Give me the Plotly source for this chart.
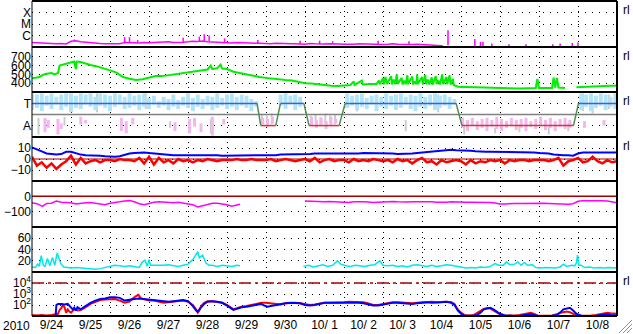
import pandas as pd
import plotly.graph_objects as go
from plotly.subplots import make_subplots

T0 = pd.Timestamp("2010-09-24")
def tt(h):
    return None if h is None else T0 + pd.Timedelta(hours=h)

# ---------------- data ----------------
day_labels = ["9/24", "9/25", "9/26", "9/27", "9/28", "9/29", "9/30", "10/ 1", "10/ 2",
              "10/ 3", "10/4", "10/5", "10/6", "10/7", "10/8"]

# X-ray flux baseline (log10 W/m2), every 3 h from 9/24 00:00
xr_base = [-6.6, -6.62, -6.7, -6.72, -6.74, -6.72, -6.7, -6.73,
           -6.5, -6.45, -6.55, -6.6, -6.62, -6.66, -6.7, -6.72,
           -6.74, -6.75, -6.72, -6.6, -6.58, -6.62, -6.65, -6.6,
           -6.62, -6.6, -6.64, -6.58, -6.55, -6.6, -6.62, -6.58,
           -6.55, -6.5, -6.52, -6.48, -6.55, -6.58, -6.6, -6.62,
           -6.62, -6.65, -6.6, -6.62, -6.66, -6.68, -6.66, -6.7,
           -6.7, -6.72, -6.68, -6.7, -6.74, -6.72, -6.75, -6.74,
           -6.75, -6.7, -6.72, -6.76, -6.74, -6.72, -6.7, -6.74,
           -6.76, -6.78, -6.75, -6.72, -6.74, -6.78, -6.8, -6.78,
           -6.78, -6.76, -6.72, -6.75, -6.78, -6.8, -6.78, -6.76,
           -6.78, -6.8, -6.82, -6.85, -6.9, -7.1, -7.2, -7.2] + [-7.2] * 33
# X-ray flares: hour, base, peak (log10)
xr_sp_h = [26, 57, 60, 65, 93, 103, 106, 109, 118.5, 139, 165, 177, 185, 213, 232, 256,
           272.5, 276, 277.5, 283, 293.5, 304, 320.5, 325, 332.5, 336]
xr_sp_lo = [-6.5, -6.7, -6.65, -6.62, -6.6, -6.5, -6.5, -6.5, -6.6, -6.65, -6.72, -6.75, -6.72,
            -6.78, -6.78, -6.85, -7.2, -7.2, -7.2, -7.2, -7.2, -7.2, -7.2, -7.2, -7.2, -7.2]
xr_sp_hi = [-6.35, -6.15, -6.15, -6.4, -6.2, -6.1, -5.9, -6.0, -6.25, -6.4, -6.45, -6.45, -6.5,
            -6.45, -6.5, -5.55, -6.3, -6.55, -6.55, -6.7, -6.75, -6.75, -6.75, -6.7, -6.65, -6.6]

# Solar wind speed (km/s)
sw_h = [0, 4, 8, 12, 14, 16, 17, 19, 22, 24, 26, 27, 27.5, 30, 33, 36, 40, 44, 48, 52, 56, 60,
        64, 68, 72, 76, 80, 84, 88, 92, 96, 100, 104, 108, 110, 111, 114, 116, 117, 120, 124,
        128, 132, 136, 140, 144, 148, 152, 156, 160, 164, 168, 172, 176, 180, 184, 188, 192,
        196, 198, 198.5, 203, 203.5, 208, 212, 213.5, 214, 216, 216.5, 217.5, 218.5, 221, 221.5,
        222.5, 223.5, 224.5, 225, 227.5, 228, 229, 230, 231, 231.5, 234, 234.5, 235.5, 236.5,
        237, 237.5, 240, 240.5, 242, 242.5, 243.5, 244.5, 246, 246.5, 248.5, 249, 250, 251,
        252.5, 253, 255, 255.5, 257, 257.5, 259, 259.5, 262, 266, 270, 280, 290, 300, 310, 311,
        312, 320, 321, 322, 323, 324, 328, 331, 335, 340, 348, 356, 360]
sw_v = [455, 468, 505, 515, 500, 515, 600, 610, 632, 640, 645, 560, 645, 640, 620, 606, 590,
        570, 545, 520, 470, 450, 436, 445, 465, 480, 480, 490, 505, 515, 520, 535, 545, 555,
        600, 560, 570, 610, 565, 560, 530, 515, 495, 480, 470, 460, 450, 442, 436, 430, 415,
        400, 395, 385, 378, 372, 368, 375, 380, 420, 380, 430, 385, 390, 390, 430, 388, 455,
        386, 470, 390, 480, 385, 440, 388, 500, 392, 460, 385, 430, 388, 490, 390, 475, 386,
        420, 388, 500, 390, 470, 385, 495, 388, 440, 386, 465, 384, 480, 390, 430, 386, 500,
        388, 470, 388, 490, 385, 450, 380, 360, 358, 355, 345, 340, 340, 345, 447, 345, 345,
        462, 350, 460, 350, 345, None, 355, 360, 365, 370, 370]

# IMF sector (T = +1, A = -1)
sector_h = [0, 138.5, 140.8, 150, 152.9, 167.3, 170.5, 189, 192.7, 261, 264.6, 333.2, 336.3, 360]
sector_v = [1, 1, -1, -1, 1, 1, -1, -1, 1, 1, -1, -1, 1, 1]

# IMF direction scatter (hour, low, high)
lb_h = [0, 3, 6, 9, 12, 15, 18, 21, 24, 27, 30, 33, 36, 39, 42, 45, 48, 51, 54, 57, 60, 63, 66,
        69, 72, 75, 78, 81, 84, 87, 90, 93, 96, 99, 102, 105, 108, 111, 114, 117, 120, 123, 126,
        129, 132, 135, 138, 153, 156, 159, 162, 165, 194, 197, 200, 203, 206, 209, 212, 215,
        218, 221, 224, 227, 230, 233, 236, 239, 242, 245, 248, 251, 254, 257, 260, 338, 341,
        344, 347, 350, 353, 356, 359]
lb_lo = [0.4, 0.6, 0.3, 0.8, 0.5, 0.9, 0.4, 0.7, 0.2, 0.6, 0.5, 0.9, 0.7, 0.4, 0.8, 0.6, 0.3,
         0.7, 0.9, 0.5, 0.6, 0.8, 0.4, 0.7, 0.5, 0.9, 0.6, 0.8, 0.4, 0.7, 0.5, 0.8, 0.6, 0.3,
         0.7, 0.5, 0.8, 0.4, 0.6, 0.8, 0.5, 0.7, 0.4, 0.8, 0.6, 0.3, 0.7, 0.8, 0.5, 0.9, 0.4,
         0.7, 0.6, 0.8, 0.4, 0.7, 0.5, 0.9, 0.3, 0.7, 0.5, 0.8, 0.4, 0.6, 0.9, 0.5, 0.3, 0.7,
         0.5, 0.8, 0.4, 0.6, 0.8, 0.5, 0.9, 0.4, 0.7, 0.3, 0.6, 0.8, 0.4, 0.7, 0.5]
lb_hi = [1.9, 1.8, 1.9, 1.7, 1.9, 1.6, 1.8, 1.9, 1.9, 1.7, 1.9, 1.8, 1.9, 1.6, 1.9, 1.8, 1.7,
         1.9, 1.8, 1.6, 1.9, 1.7, 1.8, 1.9, 1.5, 1.7, 1.2, 1.6, 1.4, 1.8, 1.3, 1.6, 1.9, 1.5,
         1.8, 1.4, 1.7, 1.6, 1.9, 1.5, 1.8, 1.9, 1.6, 1.8, 1.7, 1.4, 1.2, 1.8, 1.9, 1.7, 1.8,
         1.6, 1.9, 1.7, 1.8, 1.9, 1.5, 1.7, 1.8, 1.6, 1.9, 1.7, 1.8, 1.9, 1.6, 1.8, 1.7, 1.9,
         1.6, 1.8, 1.9, 1.7, 1.8, 1.6, 1.4, 1.9, 1.8, 1.9, 1.7, 1.9, 1.8, 1.6, 1.9]
pk_h = [8, 10, 16, 18, 30, 33, 55, 58, 62, 88, 97, 100, 104, 111, 118, 142, 145, 148, 172, 175,
        178, 181, 184, 187, 265, 268, 271, 274, 277, 280, 283, 286, 289, 292, 295, 298, 301,
        304, 307, 310, 313, 316, 319, 322, 325, 328, 331, 340, 352]
pk_lo = [-0.3, -0.5, -0.4, -0.8, -0.2, -0.5, -0.3, -0.6, -0.3, -0.7, -0.4, -0.3, -0.8, -0.2,
         -0.4, -0.3, -0.4, -0.2, -0.2, -0.5, -0.3, -0.6, -0.2, -0.4, -0.3, -0.5, -0.3, -0.6,
         -0.4, -0.3, -0.5, -0.2, -0.4, -0.6, -0.3, -0.5, -0.4, -0.3, -0.6, -0.4, -0.2, -0.5,
         -0.3, -0.6, -0.4, -0.3, -0.5, -0.6, -0.5]
pk_hi = [-1.6, -1.2, -1.8, -1.3, -0.9, -0.8, -1.5, -1.7, -0.9, -1.5, -1.7, -1.1, -1.6, -1.9,
         -0.9, -0.9, -1.1, -0.8, -1.0, -1.2, -0.9, -1.3, -1.0, -0.8, -1.2, -1.5, -1.0, -1.4,
         -1.2, -1.5, -1.1, -1.3, -1.5, -1.2, -1.0, -1.4, -1.2, -1.5, -1.1, -1.3, -1.0, -1.4,
         -1.2, -1.5, -1.1, -1.3, -1.2, -1.2, -1.0]
gy_h = [4, 20, 40, 70, 85, 110, 141.5, 144.5, 147.5, 171.5, 174.5, 177.5, 180.5, 183.5, 186.5,
        200, 230, 250, 266, 285, 300, 318, 330, 339, 345, 355]
gy_lo = [-0.3, -0.2, 0.2, 0.5, -0.6, -0.4, 0.0, -0.1, 0.1, -0.1, 0.0, -0.2, 0.1, -0.1, 0.0,
         0.3, -0.5, 0.2, -1.0, -1.2, -0.9, -1.1, -0.8, 0.3, 0.1, 0.5]
gy_hi = [-1.8, -1.0, 1.9, 1.9, -1.2, -1.7, -0.9, -0.7, -0.9, -0.9, -0.6, -1.0, -0.8, -0.7,
         -0.9, 0.8, -1.5, 1.8, -1.8, -1.7, -1.6, -1.8, -1.5, 1.9, 0.9, 1.8]

# IMF Bt and Bz (nT), every 3 h
bt_v = [10.5, 9, 7, 5, 4.5, 4, 4.5, 6.5, 6.5, 5, 4, 3.5, 3.5, 3.5, 3, 2.5,
        2, 2, 2.5, 4, 5, 5.5, 6, 6, 5.5, 5, 4.5, 4, 4, 3.5, 3.5, 3.5,
        3.5, 3.5, 4, 4, 3.5, 3.5, 3.5, 3, 3, 3, 3.5, 3.5, 3.5, 3, 3, 3,
        3, 3.5, 3.5, 4, 4, 4, 4.5, 4.5, 4.5, 4.5, 5, 5, 5, 4.5, 4.5, 4.5,
        4.5, 4.5, 5, 5, 5.5, 5.5, 5, 5, 5, 5, 5, 4.5, 4.5, 5, 5, 5.5,
        6, 6.5, 7, 7.5, 8, 8.5, 8.5, 8, 8, 7.5, 7.5, 7, 6.5, 6.5, 6.5, 6.5,
        6.5, 6.5, 6, 6, 6.5, 6, 6, 6, 5.5, 5.5, 5, 4, 3.5, 3.5, 3.5, 3,
        5, 6, 6, 6, 6.5, 6, 6, 6, 6]
bz_v = [2, -6, -3, -8, -4, -9, -5, -2, 3, -5, 1, -4, -2, -1, -3, -1,
        -1, -2, 0, -1, -1, -2, 1, -4, 2, -5, 1, -3, -1, -4, 0, -2,
        -1, -3, -1, -2, 0, -1, -2, -1, -1, -1, 0, -1, -1, 0, -1, -1,
        -1, 0, -2, -1, 0, -1, -2, -1, 0, -2, 1, -3, -1, 0, -2, -1,
        -1, -3, 0, -2, -1, -2, 0, -1, -2, -1, -3, 0, -2, -1, -4, -1,
        1, -3, -2, -5, -1, -3, -2, -1, -2, -5, -1, -4, -2, -3, -1, -2,
        -1, -4, -1, -2, -1, -1, -2, -1, -1, -1, -2, -1, 1, -6, -2, -1,
        1, -3, -2, 2, -2, -4, -1, -3, -2]

# Dst (nT)
dst_h = [0, 3, 6.5, 9, 12, 15, 18, 21, 24, 27, 30, 33, 36, 39, 42, 45, 48, 51, 54, 57, 60, 63,
         66, 69, 72, 75, 78, 81, 84, 87, 90, 93, 96, 99, 102, 105, 108, 111, 114, 117, 120, 123,
         126, 128, 147, 168, 171, 174, 177, 180, 183, 186, 189, 192, 195, 198, 201, 204, 207,
         210, 213, 216, 219, 222, 225, 228, 231, 234, 237, 240, 243, 246, 249, 252, 255, 258,
         261, 264, 267, 270, 273, 276, 279, 282, 285, 288, 291, 294, 297, 300, 303, 306, 309,
         312, 315, 318, 321, 324, 327, 330, 333, 336, 339, 342, 345, 348, 351, 354, 357, 360]
dst_v = [-42, -48, -66, -46, -45, -30, -38, -40, -42, -50, -45, -42, -40, -44, -52, -55, -45,
         -38, -36, -30, -28, -35, -48, -55, -45, -38, -35, -38, -40, -42, -38, -45, -50, -55,
         -70, -60, -50, -45, -45, -48, -55, -65, -55, -52, None, -30, -32, -35, -38, -36, -34,
         -35, -36, -38, -40, -36, -34, -35, -37, -40, -38, -36, -35, -34, -36, -38, -37, -36,
         -35, -34, -33, -35, -38, -40, -38, -36, -38, -38, -39, -39, -39, -40, -38, -40, -44,
         -50, -50, -46, -46, -47, -46, -45, -46, -46, -45, -46, -47, -48, -50, -52, -48, -32,
         -29, -28, -29, -28, -29, -30, -36, -42]

# AE-like index (cyan)
ae_h = [0, 2, 3.5, 4.5, 5.7, 7, 8, 9.5, 11, 12.6, 14, 15.5, 17, 18, 19.5, 21, 24, 27, 30, 33,
        36, 39, 42, 45, 48, 51, 54, 57, 60, 63, 66, 68, 69.5, 71, 72, 73, 75, 78, 81, 84, 87, 90,
        93, 96, 99, 101, 102, 103, 105, 107, 109, 111, 114, 117, 120, 123, 126, 128, 147, 167,
        170, 173, 176, 179, 182, 185, 188, 190, 193, 196, 199, 202, 205, 208, 211, 214, 216, 219,
        222, 225, 228, 231, 234, 237, 240, 243, 246, 249, 252, 255, 258, 261, 264, 267, 270, 273,
        276, 279, 282, 285, 287, 290, 292, 294, 297, 299, 301, 303, 305, 308, 310, 313, 316, 319,
        322, 325, 327, 329, 332, 334, 335, 335.7, 336.5, 338, 340, 343, 346, 349, 352, 355, 358,
        360]
ae_v = [9, 8, 14, 10, 29, 12, 10, 24, 11, 26, 12, 34, 20, 14, 9, 8, 7, 8, 7, 6, 5, 5, 6, 8, 10,
        12, 11, 10, 11, 9, 8, 18, 21, 10, 22, 12, 12, 11, 12, 13, 12, 10, 12, 14, 22, 30, 36, 25,
        30, 16, 12, 12, 10, 12, 11, 10, 12, 11, None, 10, 12, 9, 11, 13, 10, 12, 20, 14, 11, 10,
        12, 11, 10, 12, 13, 20, 12, 11, 12, 10, 11, 9, 12, 13, 11, 10, 12, 10, 11, 13, 12, 10, 8,
        7, 8, 7, 9, 8, 10, 15, 12, 12, 18, 13, 14, 18, 12, 17, 12, 13, 8, 7, 8, 7, 7, 9, 14, 10,
        12, 11, 16, 30, 12, 12, 8, 9, 7, 8, 7, 8, 7, 8]

# energetic particle flux (log10), red and blue
pr_h = [0, 3, 6, 9, 12, 15, 16, 17, 18, 19, 20, 21, 22, 23, 24, 26, 28, 30, 32, 34, 36, 39, 42,
        45, 48, 51, 54, 57, 60, 62, 64, 65.5, 67, 69, 72, 75, 78, 81, 84, 87, 90, 93, 96, 99, 101,
        102, 103, 104, 106, 108, 111, 114, 117, 120, 122, 124, 126, 129, 132, 135, 138, 141, 144,
        147, 150, 153, 156, 159, 162, 165, 168, 171, 174, 177, 180, 183, 186, 189, 192, 195, 198,
        201, 204, 207, 210, 213, 216, 219, 222, 225, 228, 231, 234, 237, 240, 243, 246, 249, 252,
        255, 258, 260, 262, 264, 266, 268, 270, 272, 274, 276, 278, 280, 282, 284, 286, 288, 291,
        294, 297, 300, 303, 305, 307, 309, 311, 314, 317, 320, 323, 325, 327, 329, 331, 333, 335,
        338, 341, 344, 347, 350, 352, 354, 356, 358, 360]
pr_v = [1.1, 1.05, 1.1, 1.05, 1.1, 1.15, 1.2, 1.57, 1.7, 2.0, 1.8, 1.3, 1.6, 1.4, 1.3, 1.6, 1.5,
        1.55, 1.7, 1.9, 2.1, 2.3, 2.45, 2.5, 2.55, 2.55, 2.4, 2.2, 2.3, 2.6, 2.8, 2.92, 2.6, 2.5,
        2.4, 2.4, 2.3, 2.2, 2.25, 2.3, 2.35, 2.4, 2.3, 2.0, 1.6, 1.3, 1.5, 1.9, 2.2, 2.35, 2.35,
        2.3, 2.2, 2.0, 1.8, 1.6, 1.7, 1.85, 1.9, 2.0, 2.1, 2.2, 2.2, 2.15, 2.05, 2.05, 2.15, 2.2,
        2.2, 2.15, 2.05, 2.0, 2.05, 2.15, 2.2, 2.2, 2.2, 2.25, 2.25, 2.3, 2.3, 2.3, 2.25, 2.15,
        2.0, 2.0, 2.1, 2.2, 2.25, 2.25, 2.2, 2.2, 2.15, 2.2, 2.25, 2.3, 2.3, 2.25, 2.3, 2.3, 2.25,
        2.1, 1.6, 1.3, 1.1, 1.05, 1.05, 1.1, 1.3, 1.5, 1.65, 1.72, 1.7, 1.5, 1.3, 1.15, 1.05,
        1.03, 1.05, 1.1, 1.2, 1.3, 1.3, 1.2, 1.05, 1.03, 1.03, 1.05, 1.15, 1.3, 1.35, 1.4, 1.35,
        1.2, 1.05, 1.03, 1.03, 1.05, 1.1, 1.2, 1.3, 1.3, 1.25, 1.2, 1.2]
pb_h = [0, 14.5, 15, 16, 18, 20, 22, 24, 25, 26, 27, 28, 30, 32, 34, 36, 39, 42, 45, 48, 51, 54,
        57, 60, 63, 66, 69, 72, 75, 78, 81, 84, 87, 90, 93, 96, 99, 101, 102, 103, 104, 106, 108,
        111, 114, 117, 120, 122, 124, 126, 129, 132, 135, 138, 141, 143, 145, 147, 150, 153, 156,
        159, 162, 165, 168, 171, 174, 177, 180, 183, 186, 189, 192, 195, 198, 201, 204, 207, 210,
        213, 216, 219, 222, 225, 228, 231, 234, 237, 240, 243, 246, 249, 252, 255, 258, 260, 262,
        264, 266, 268, 270, 272, 274, 276, 278, 280, 282, 284, 286, 288, 291, 294, 297, 300, 303,
        305, 307, 309, 311, 314, 317, 320, 323, 325, 327, 329, 331, 333, 335, 338, 341, 344, 347,
        350, 352, 354, 356, 358, 360]
pb_v = [0.9, 0.9, 2.0, 2.1, 2.1, 2.05, 2.1, 1.8, 1.6, 1.75, 1.5, 1.8, 1.6, 1.8, 2.0, 2.2, 2.4,
        2.55, 2.6, 2.7, 2.7, 2.65, 2.4, 2.5, 2.55, 2.6, 2.55, 2.5, 2.45, 2.35, 2.3, 2.3, 2.35,
        2.4, 2.45, 2.35, 1.9, 1.5, 1.4, 1.6, 1.8, 2.1, 2.3, 2.35, 2.3, 2.2, 1.95, 1.75, 1.55,
        1.65, 1.8, 1.85, 1.95, 2.05, 2.1, 1.95, 1.85, 1.9, 2.0, 2.1, 2.15, 2.2, 2.2, 2.15, 2.0,
        1.95, 2.0, 2.1, 2.2, 2.2, 2.2, 2.2, 2.2, 2.25, 2.2, 2.2, 2.15, 2.05, 1.95, 1.95, 2.05,
        2.15, 2.2, 2.2, 2.15, 2.1, 2.1, 2.15, 2.2, 2.25, 2.2, 2.2, 2.25, 2.3, 2.2, 2.0, 1.5, 1.2,
        1.05, 1.0, 1.0, 1.05, 1.1, 1.3, 1.6, 1.7, 1.75, 1.6, 1.4, 1.2, 1.05, 1.0, 1.0, 1.02,
        1.05, 1.1, 1.15, 1.1, 1.03, 1.0, 1.0, 1.02, 1.1, 1.3, 1.6, 1.7, 1.75, 1.5, 1.2, 1.03,
        1.0, 1.0, 1.02, 1.05, 1.1, 1.15, 1.1, 1.05, 1.05]

# ---------------- helpers ----------------
def xs(hours):
    return [tt(h) for h in hours]

def segs(hours, lo, hi, f=lambda v: v):
    X, Y = [], []
    for h, a, b in zip(hours, lo, hi):
        X += [tt(h), tt(h), None]
        Y += [f(a), f(b), None]
    return X, Y

p10 = lambda v: None if v is None else 10 ** v
grid3 = [3 * i for i in range(121)]
XSTART, XEND = T0, T0 + pd.Timedelta(days=15)

fig = make_subplots(rows=7, cols=1, shared_xaxes=True, vertical_spacing=0,
                    row_heights=[46, 45, 45, 44, 46, 45, 44])

def line(x, y, color, row, width=1, dash=None, opacity=1):
    fig.add_trace(go.Scatter(x=x, y=y, mode="lines", line=dict(color=color, width=width, dash=dash),
                             opacity=opacity, showlegend=False, hoverinfo="skip",
                             connectgaps=False), row=row, col=1)

# Panel 1: X-ray
X, Y = segs(xr_sp_h, xr_sp_lo, xr_sp_hi, p10)
line(X, Y, "#ff00ff", 1, 1.5)
line(xs(grid3), [p10(v) for v in xr_base], "#ff00ff", 1, 1.5)

# Panel 2: solar wind
line(xs(sw_h), sw_v, "#00ee00", 2, 2)

# Panel 3: IMF sector
X, Y = segs(gy_h, gy_lo, gy_hi); line(X, Y, "#cccccc", 3, 2)
X, Y = segs(lb_h, lb_lo, lb_hi); line(X, Y, "#b2e4f8", 3, 4)
X, Y = segs(pk_h, pk_lo, pk_hi); line(X, Y, "#f4b6ee", 3, 3)
line([XSTART, XEND], [0, 0], "#808080", 3, 1.5)
sx = {"b": [], "r": [], "g": []}
sy = {"b": [], "r": [], "g": []}
for i in range(len(sector_h) - 1):
    a, b = sector_v[i], sector_v[i + 1]
    k = "b" if a == b == 1 else ("r" if a == b == -1 else "g")
    sx[k] += [tt(sector_h[i]), tt(sector_h[i + 1]), None]
    sy[k] += [a, b, None]
line(sx["b"], sy["b"], "#3c5ee0", 3, 1.5)
line(sx["r"], sy["r"], "#e03030", 3, 1.5)
line(sx["g"], sy["g"], "#4a9050", 3, 1.5)

# Panel 4: Bt/Bz
line([XSTART, XEND], [0, 0], "#a00000", 4, 1)
line(xs(grid3), bt_v, "#0000ff", 4, 2)
line(xs(grid3), bz_v, "#ff0000", 4, 2.5)

# Panel 5: Dst
line([XSTART, XEND], [0, 0], "#a00000", 5, 1.5)
line(xs(dst_h), dst_v, "#ff00ff", 5, 1.5)

# Panel 6: AE
line(xs(ae_h), ae_v, "#00e8e8", 6, 1.5)

# Panel 7: particle flux
line([XSTART, XEND], [1e4, 1e4], "#b00000", 7, 1.5, "12px,4px,3px,4px")
line(xs(pr_h), [p10(v) for v in pr_v], "#ff0000", 7, 2)
line(xs(pb_h), [p10(v) for v in pb_v], "#0000ff", 7, 2)

# ---------------- axes ----------------
noon = [(T0 + pd.Timedelta(hours=12 + 24 * i)).strftime("%Y-%m-%d %H:%M") for i in range(15)]
mids = [(T0 + pd.Timedelta(days=i)).strftime("%Y-%m-%d") for i in range(1, 15)]
fig.update_xaxes(range=[XSTART, XEND], tickmode="array", tickvals=noon, ticktext=day_labels,
                 showgrid=False, zeroline=False, showline=False, ticks="",
                 tickfont=dict(size=12),
                 minor=dict(tickmode="array", tickvals=mids, showgrid=True, gridcolor="black",
                            griddash="1px,4px", gridwidth=1, ticks=""))

ycfg = {
    1: dict(type="log", range=[-7, -3], tickvals=[1e-6, 1e-5, 1e-4], ticktext=["C", "M", "X"]),
    2: dict(range=[300, 810], tickvals=[400, 500, 600, 700]),
    3: dict(range=[-2.03, 2.03], tickvals=[1, -1], ticktext=["T", "A"]),
    4: dict(range=[-20, 20], tickvals=[10, 0, -10]),
    5: dict(range=[-200, 100], tickvals=[0, -100]),
    6: dict(range=[0, 80], tickvals=[20, 40, 60]),
    7: dict(type="log", range=[1, 5], tickvals=[1e2, 1e3, 1e4],
            ticktext=["10<sup>2</sup>", "10<sup>3</sup>", "10<sup>4</sup>"]),
}
for r, c in ycfg.items():
    fig.update_yaxes(row=r, col=1, tickmode="array", showgrid=True, gridcolor="black",
                     griddash="1px,6px", gridwidth=1, zeroline=False, showline=False, ticks="",
                     tickfont=dict(size=12), fixedrange=True, **c)

# ---------------- frame ----------------
H = 315.0
bounds = [0, 46, 91, 136, 180, 226, 271, 315]
shapes = []
for b in bounds:
    shapes.append(dict(type="line", xref="paper", yref="paper", x0=0, x1=1,
                       y0=1 - b / H, y1=1 - b / H, line=dict(color="black", width=2)))
shapes.append(dict(type="line", xref="paper", yref="paper", x0=0, x1=0, y0=0, y1=1,
                   line=dict(color="black", width=1)))
shapes.append(dict(type="line", xref="paper", yref="paper", x0=1, x1=1, y0=0, y1=1,
                   line=dict(color="black", width=2)))
W = 585.0
for (xa, ya, xb, yb) in [(619, 333, 632, 320), (623, 333, 632, 324), (627, 333, 632, 328)]:
    shapes.append(dict(type="line", xref="paper", yref="paper",
                       x0=(xa - 32) / W, x1=(xb - 32) / W, y0=(316 - ya) / H, y1=(316 - yb) / H,
                       line=dict(color="#909090", width=1)))

ann = [dict(text="2010", xref="paper", yref="paper", x=(16 - 32) / W, y=-(326 - 316) / H,
            xanchor="center", yanchor="middle", showarrow=False, font=dict(size=12))]
for r in [1, 2, 3, 4, 7]:
    yr = "y domain" if r == 1 else f"y{r} domain"
    ann.append(dict(text="rl", xref="paper", yref=yr, x=1.006, y=0.8, xanchor="left",
                    yanchor="middle", showarrow=False, font=dict(size=12)))

fig.update_layout(width=633, height=334, margin=dict(l=32, r=16, t=1, b=18),
                  paper_bgcolor="white", plot_bgcolor="white", shapes=shapes, annotations=ann,
                  font=dict(family="Liberation Sans, Arial, sans-serif", size=12, color="black"),
                  showlegend=False)

fig.write_html("out.html", config={"displayModeBar": False})
